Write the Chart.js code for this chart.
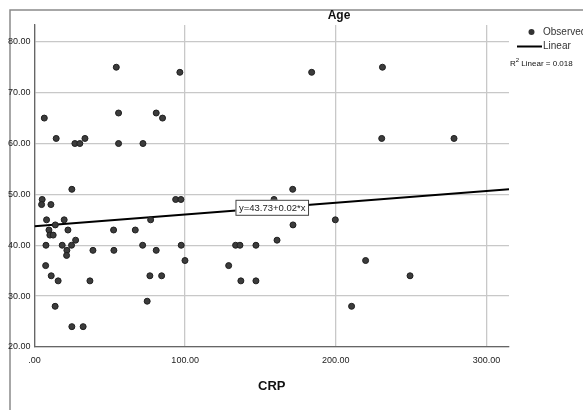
<!DOCTYPE html>
<html>
<head>
<meta charset="utf-8">
<script src="https://cdn.jsdelivr.net/npm/chart.js@4.4.0/dist/chart.umd.min.js"></script>
<style>
  html, body { margin: 0; padding: 0; background: #fff; }
  #wrap { width: 583px; height: 410px; position: relative; }
</style>
</head>
<body>
<div id="wrap"><canvas id="scatterChart" width="583" height="410"></canvas></div>
<script>
// CRP (x) vs Age (y)
const crpValues = [6.5, 14.4, 26.8, 30.1, 33.5, 54.3, 55.8, 55.8, 72, 80.8, 85, 96.5, 184, 231, 230.5, 278.5,
  5.1, 4.7, 10.9, 24.8, 8.0, 19.7, 9.6, 22.2, 10.2, 12.4, 13.8, 7.6, 18.4, 24.6, 27.3, 21.5, 21.3, 38.8,
  7.4, 11.1, 15.7, 36.8, 13.7, 24.8, 32.3, 52.5, 52.7, 66.9, 71.8, 77.1, 80.8, 76.6, 84.4, 74.8,
  93.7, 97.2, 97.4, 99.9, 159, 171.4, 171.6, 199.7, 133.5, 136.4, 147, 161, 128.9, 137, 147, 219.8, 210.5, 249.3];
const ageValues = [65, 61, 60, 60, 61, 75, 66, 60, 60, 66, 65, 74, 74, 75, 61, 61,
  49, 48, 48, 51, 45, 45, 43, 43, 42, 42, 44, 40, 40, 40, 41, 39, 38, 39,
  36, 34, 33, 33, 28, 24, 24, 43, 39, 43, 40, 45, 39, 34, 34, 29,
  49, 49, 40, 37, 49, 51, 44, 45, 40, 40, 40, 41, 36, 33, 33, 37, 28, 34];

// fit line ends (y = 43.73 + 0.02*x)
const fitX = [0, 315];
const fitY = [43.73, 51.0];

const xTicks = [0, 100, 200, 300];
const yTicks = [20, 30, 40, 50, 60, 70, 80];

const points = crpValues.map((x, i) => ({ x: x, y: ageValues[i] }));
const fitLine = fitX.map((x, i) => ({ x: x, y: fitY[i] }));

function fmt(v) {
  return v === 0 ? '.00' : v.toFixed(2);
}

const decorPlugin = {
  id: 'decor',
  beforeDraw(chart) {
    const ctx = chart.ctx;
    ctx.save();
    ctx.strokeStyle = '#8a8a8a';
    ctx.lineWidth = 1.5;
    ctx.beginPath();
    ctx.moveTo(10, 410);
    ctx.lineTo(10, 10);
    ctx.lineTo(583, 10);
    ctx.stroke();
    ctx.restore();
  },
  afterDatasetsDraw(chart) {
    const ctx = chart.ctx;
    const xs = chart.scales.x, ys = chart.scales.y;
    ctx.save();

    // y-axis title at top
    ctx.fillStyle = '#111';
    ctx.font = 'bold 12px "Liberation Sans", Arial, sans-serif';
    ctx.textAlign = 'center';
    ctx.textBaseline = 'middle';
    ctx.fillText('Age', 339, 16);

    // equation box on the fit line
    const midX = (xs.min + xs.max) / 2;
    const midY = fitY[0] + (fitY[1] - fitY[0]) * (midX - fitX[0]) / (fitX[1] - fitX[0]);
    const cx = xs.getPixelForValue(midX), cy = ys.getPixelForValue(midY);
    ctx.font = '9.5px "Liberation Sans", Arial, sans-serif';
    const label = 'y=43.73+0.02*x';
    const w = ctx.measureText(label).width + 6;
    ctx.fillStyle = '#fff';
    ctx.fillRect(cx - w / 2, cy - 8, w, 16);
    ctx.strokeStyle = '#444';
    ctx.lineWidth = 1;
    ctx.strokeRect(cx - w / 2 + 0.5, cy - 7.5, w, 15);
    ctx.fillStyle = '#222';
    ctx.fillText(label, cx + 0.5, cy + 0.5);

    // legend
    ctx.fillStyle = '#333';
    ctx.beginPath();
    ctx.arc(531.5, 32, 3, 0, Math.PI * 2);
    ctx.fill();
    ctx.strokeStyle = '#000';
    ctx.lineWidth = 2;
    ctx.beginPath();
    ctx.moveTo(517, 46.5);
    ctx.lineTo(542, 46.5);
    ctx.stroke();
    ctx.font = '10px "Liberation Sans", Arial, sans-serif';
    ctx.textAlign = 'left';
    ctx.fillStyle = '#333';
    ctx.fillText('Observed', 543, 32);
    ctx.fillText('Linear', 543, 46);

    ctx.font = '8px "Liberation Sans", Arial, sans-serif';
    ctx.fillStyle = '#111';
    ctx.fillText('R', 510, 64);
    let rw = ctx.measureText('R').width;
    ctx.font = '6px "Liberation Sans", Arial, sans-serif';
    ctx.fillText('2', 510 + rw, 60);
    rw += ctx.measureText('2').width;
    ctx.font = '8px "Liberation Sans", Arial, sans-serif';
    ctx.fillText(' Linear = 0.018', 510 + rw, 64);
    ctx.restore();
  }
};

new Chart(document.getElementById('scatterChart'), {
  type: 'scatter',
  data: {
    datasets: [
      {
        label: 'Observed',
        data: points,
        backgroundColor: '#3c3c3c',
        borderColor: '#1e1e1e',
        borderWidth: 1,
        pointRadius: 3
      },
      {
        type: 'line',
        label: 'Linear',
        data: fitLine,
        borderColor: '#000',
        borderWidth: 2,
        pointRadius: 0,
        fill: false
      }
    ]
  },
  options: {
    responsive: false,
    animation: false,
    layout: { padding: { left: 0, top: 25, right: 74, bottom: 0 } },
    plugins: { legend: { display: false }, tooltip: { enabled: false } },
    scales: {
      x: {
        type: 'linear',
        min: 0,
        max: 315,
        afterBuildTicks: s => { s.ticks = xTicks.map(v => ({ value: v })); },
        afterFit: s => { s.height = 63; },
        grid: { color: '#c8c8c8', lineWidth: 1.3, drawTicks: false },
        border: { color: '#666', width: 1.3 },
        ticks: {
          padding: 8,
          autoSkip: false,
          color: '#222',
          font: { family: '"Liberation Sans", Arial, sans-serif', size: 9 },
          maxRotation: 0,
          callback: v => fmt(v)
        },
        title: {
          display: true,
          text: 'CRP',
          color: '#111',
          font: { family: '"Liberation Sans", Arial, sans-serif', size: 13, weight: 'bold' },
          padding: { top: 0, bottom: 16 }
        }
      },
      y: {
        type: 'linear',
        min: 20,
        max: 83.3,
        afterBuildTicks: s => { s.ticks = yTicks.map(v => ({ value: v })); },
        afterFit: s => { s.width = 34.5; },
        grid: { color: '#c8c8c8', lineWidth: 1.3, drawTicks: false },
        border: { color: '#666', width: 1.3 },
        ticks: {
          padding: 4,
          autoSkip: false,
          color: '#222',
          font: { family: '"Liberation Sans", Arial, sans-serif', size: 9 },
          callback: v => fmt(v)
        }
      }
    }
  },
  plugins: [decorPlugin]
});
</script>
</body>
</html>
